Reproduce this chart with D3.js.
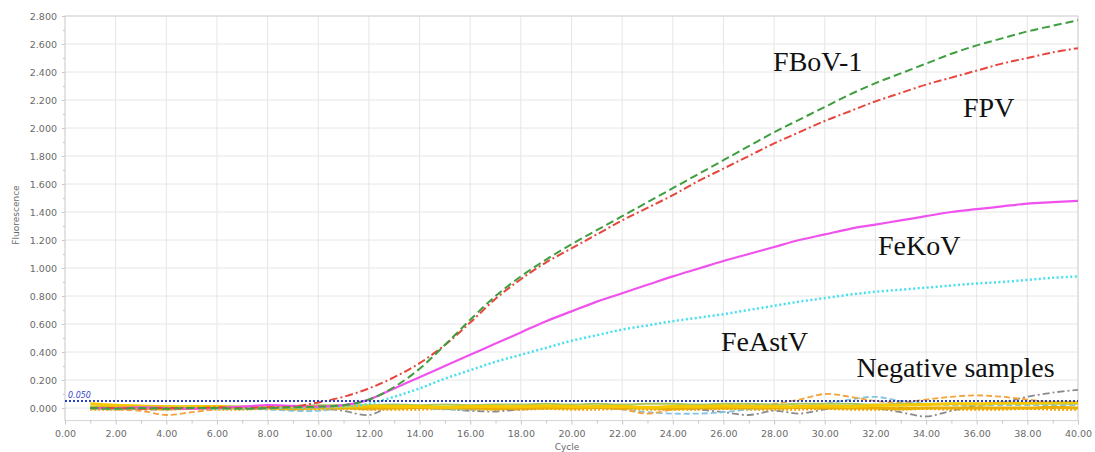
<!DOCTYPE html>
<html>
<head>
<meta charset="utf-8">
<script src="https://cdn.jsdelivr.net/npm/d3@7"></script>
<style>
  html, body { margin: 0; padding: 0; background: #ffffff; }
  svg { display: block; }
</style>
</head>
<body>
<svg id="chart" width="1095" height="452"></svg>
<script>
// ---------- data ----------
const cycles = d3.range(1, 41);
const xTicks = d3.range(0, 41, 2);
const yTicks = d3.range(0, 2.81, 0.2);
const threshold = 0.05;

const fbov1 = [0.00,-0.005,0.00,-0.005,0.00,0.00,-0.005,0.00,0.005,0.01,0.02,0.06,0.15,0.28,0.45,0.63,0.80,0.94,1.06,1.17,1.27,1.37,1.47,1.57,1.67,1.77,1.87,1.97,2.06,2.15,2.24,2.32,2.39,2.46,2.53,2.59,2.64,2.69,2.73,2.77];
const fpv   = [0.00,0.00,-0.005,0.00,0.00,0.005,0.00,0.005,0.01,0.04,0.08,0.14,0.22,0.32,0.45,0.61,0.78,0.92,1.04,1.14,1.24,1.34,1.43,1.52,1.62,1.71,1.80,1.89,1.97,2.05,2.12,2.19,2.25,2.31,2.36,2.41,2.46,2.50,2.54,2.57];
const fekov = [0.00,0.00,0.005,0.00,-0.005,0.00,0.01,0.02,0.015,0.01,0.02,0.06,0.14,0.22,0.30,0.38,0.46,0.54,0.62,0.69,0.76,0.82,0.88,0.94,0.995,1.05,1.10,1.15,1.20,1.24,1.28,1.31,1.34,1.37,1.40,1.42,1.44,1.46,1.47,1.48];
const feastv = [0.00,-0.005,0.00,0.00,0.00,-0.005,0.00,0.00,0.00,0.005,0.01,0.03,0.08,0.14,0.21,0.27,0.33,0.38,0.43,0.48,0.52,0.56,0.59,0.62,0.645,0.67,0.70,0.73,0.76,0.785,0.81,0.83,0.845,0.86,0.875,0.89,0.90,0.915,0.93,0.94];

const negGray   = [0.00,0.00,-0.01,-0.01,0.00,-0.005,0.00,-0.01,0.00,0.00,-0.02,-0.05,0.02,0.01,-0.005,-0.02,-0.025,-0.01,0.00,0.005,0.00,0.00,0.005,0.00,-0.01,-0.03,-0.05,-0.02,-0.04,-0.01,0.01,0.00,-0.03,-0.06,-0.02,0.02,0.04,0.08,0.11,0.13];
const negOrange = [0.00,-0.01,-0.02,-0.05,-0.03,-0.01,0.00,0.00,0.00,0.01,0.00,-0.01,0.00,0.00,0.00,0.01,0.00,-0.01,0.00,0.005,0.00,-0.01,-0.04,-0.01,0.01,0.03,0.02,0.03,0.06,0.10,0.08,0.05,0.04,0.06,0.08,0.09,0.08,0.06,0.04,0.03];
const negBlue   = [0.00,0.00,0.00,-0.01,0.00,0.00,-0.005,-0.01,-0.02,-0.02,0.00,0.00,0.005,0.00,-0.01,-0.01,0.00,0.00,0.00,0.00,0.00,-0.01,-0.03,-0.04,-0.04,-0.03,-0.01,0.00,0.01,0.03,0.06,0.08,0.05,0.03,0.02,0.02,0.02,0.02,0.02,0.02];
const negGreen  = [0.01,0.01,0.005,0.01,0.01,0.015,0.01,0.01,0.015,0.02,0.02,0.02,0.025,0.02,0.025,0.02,0.025,0.025,0.03,0.025,0.03,0.025,0.03,0.03,0.025,0.03,0.03,0.025,0.03,0.03,0.03,0.025,0.03,0.03,0.03,0.025,0.03,0.03,0.03,0.03];
const negGold1  = [0.03,0.02,0.015,0.01,0.01,0.01,0.005,0.01,0.01,0.01,0.01,0.015,0.01,0.01,0.005,0.01,0.01,0.01,0.015,0.01,0.01,0.01,0.005,0.01,0.01,0.015,0.01,0.01,0.01,0.015,0.01,0.02,0.02,0.025,0.03,0.03,0.035,0.035,0.04,0.04];
const negGold2  = [0.00,0.00,0.00,-0.005,0.00,0.00,0.00,0.00,-0.005,0.00,0.00,0.00,0.00,0.005,0.00,0.00,-0.005,0.00,0.00,0.00,0.005,0.00,0.00,-0.005,0.00,0.00,0.00,0.00,0.005,0.00,0.00,0.00,-0.005,0.00,0.00,0.00,0.00,0.00,0.005,0.00];
const negDotted = [-0.01,-0.01,-0.005,-0.01,-0.005,-0.01,-0.01,-0.005,-0.01,-0.01,-0.005,-0.01,-0.01,-0.01,-0.005,-0.01,-0.01,-0.01,-0.005,-0.01,-0.01,-0.005,-0.01,-0.01,-0.01,-0.005,-0.01,-0.01,-0.01,-0.005,-0.01,-0.01,-0.01,-0.005,-0.01,-0.01,-0.01,-0.005,-0.01,-0.01];
const negBrown  = [-0.005,-0.01,0.00,-0.005,0.00,0.005,0.00,0.00,0.01,0.01,0.00,-0.005,0.00,0.00,0.005,0.00,0.00,-0.005,0.00,0.00,0.00,0.005,0.00,0.00,0.00,0.00,-0.005,0.00,0.00,0.00,0.00,0.00,0.00,0.00,0.00,0.005,0.00,0.00,0.00,0.00];

const labels = ["FBoV-1", "FPV", "FeKoV", "FeAstV", "Negative samples"];

// ---------- chart ----------
const svg = d3.select("#chart");
const pLeft = 65, pRight = 1078, pTop = 16, pBottom = 420.6;
const x = d3.scaleLinear().domain([0, 40]).range([pLeft, pRight]);
const y = d3.scaleLinear().domain([-0.09, 2.8]).range([pBottom, pTop]);

// grid
const grid = svg.append("g");
grid.selectAll(".vg").data(xTicks).join("line")
  .attr("x1", d => x(d)).attr("x2", d => x(d))
  .attr("y1", pTop).attr("y2", pBottom)
  .attr("stroke", "#e6e6e6").attr("stroke-width", 1);
grid.selectAll(".hg").data(yTicks).join("line")
  .attr("x1", pLeft).attr("x2", pRight)
  .attr("y1", d => y(d)).attr("y2", d => y(d))
  .attr("stroke", "#e6e6e6").attr("stroke-width", 1);
svg.append("rect").attr("x", pLeft).attr("y", pTop)
  .attr("width", pRight - pLeft).attr("height", pBottom - pTop)
  .attr("fill", "none").attr("stroke", "#d4d4d4");

// axes
const fmtX = d3.format(".2f"), fmtY = d3.format(".3f");
const xAxis = svg.append("g").attr("transform", `translate(0,${pBottom})`)
  .call(d3.axisBottom(x).tickValues(xTicks).tickFormat(fmtX).tickSize(4).tickPadding(6));
const xMinor = svg.append("g").attr("transform", `translate(0,${pBottom})`)
  .call(d3.axisBottom(x).tickValues(d3.range(1, 40, 2)).tickFormat("").tickSize(3));
const yAxis = svg.append("g").attr("transform", `translate(${pLeft},0)`)
  .call(d3.axisLeft(y).tickValues(yTicks).tickFormat(fmtY).tickSize(3).tickPadding(5));
const yMinor = svg.append("g").attr("transform", `translate(${pLeft},0)`)
  .call(d3.axisLeft(y).tickValues(d3.range(0.1, 2.8, 0.2)).tickFormat("").tickSize(2));
[xAxis, xMinor, yAxis, yMinor].forEach(g => {
  g.select(".domain").remove();
  g.selectAll(".tick line").attr("stroke", "#c8c8c8");
  g.selectAll("text").attr("fill", "#6a6a6a")
    .style("font-family", "DejaVu Sans, sans-serif").style("font-size", "9.5px");
});

svg.append("text").attr("x", 567).attr("y", 450).attr("text-anchor", "middle")
  .style("font-family", "DejaVu Sans, sans-serif").style("font-size", "9px").attr("fill", "#6a6a6a")
  .text("Cycle");
svg.append("text").attr("transform", "translate(19,215) rotate(-90)").attr("text-anchor", "middle")
  .style("font-family", "DejaVu Sans, sans-serif").style("font-size", "9px").attr("fill", "#6a6a6a")
  .text("Fluorescence");

// lines
const line = d3.line().x((d, i) => x(cycles[i])).y(d => y(d)).curve(d3.curveCatmullRom.alpha(0.5));
const plot = svg.append("g");
function draw(data, color, width, dash) {
  plot.append("path").datum(data).attr("d", line)
    .attr("fill", "none").attr("stroke", color).attr("stroke-width", width)
    .attr("stroke-dasharray", dash || null).attr("stroke-linecap", "butt");
}
draw(negBrown, "#7a5a2a", 1.5, "5,3");
draw(negDotted, "#f0a000", 2.5, "2,2");
draw(negGray, "#8a8a8a", 1.8, "7,3,2,3");
draw(negBlue, "#86c4e4", 1.8, "6,3");
draw(negOrange, "#f3a23c", 1.8, "6,3");
draw(negGreen, "#a9c95c", 2, null);
draw(negGold2, "#e9ae00", 3, null);
draw(negGold1, "#f6c800", 3, null);

draw(feastv, "#45e0ee", 2.5, "2,2.5");
draw(fekov, "#f052ee", 2.2, null);
draw(fpv, "#e6463c", 2, "8,3,2,3");
draw(fbov1, "#3f9e3f", 2, "8,4");

// threshold
svg.append("line").attr("x1", pLeft).attr("x2", pRight)
  .attr("y1", y(threshold)).attr("y2", y(threshold))
  .attr("stroke", "#2a3cc8").attr("stroke-width", 2).attr("stroke-dasharray", "2,2");
svg.append("text").attr("x", 68).attr("y", y(threshold) - 3)
  .style("font-family", "DejaVu Sans, sans-serif").style("font-size", "8px").style("font-style", "italic")
  .attr("fill", "#3344cc").text(fmtY(threshold));

// annotations
const ann = [
  {t: labels[0], cx: 27.96, v: 2.41},
  {t: labels[1], cx: 35.46, v: 2.076},
  {t: labels[2], cx: 32.1, v: 1.093},
  {t: labels[3], cx: 25.9, v: 0.41},
  {t: labels[4], cx: 31.25, v: 0.225}
];
svg.append("g").selectAll("text").data(ann).join("text")
  .attr("x", d => x(d.cx)).attr("y", d => y(d.v))
  .style("font-family", "Liberation Serif, Times New Roman, serif").style("font-size", "28px")
  .attr("fill", "#111").text(d => d.t);
</script>
</body>
</html>
